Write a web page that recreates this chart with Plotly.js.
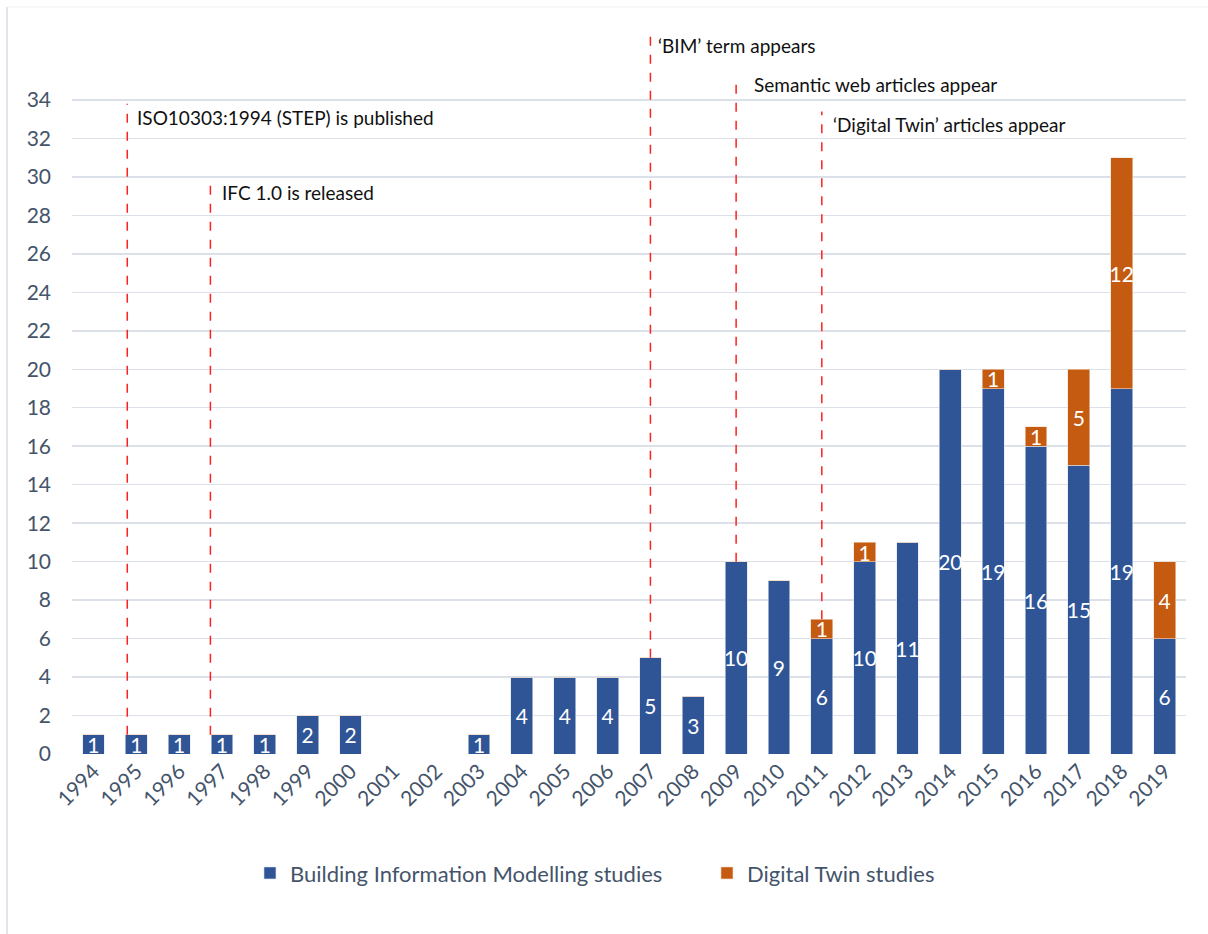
<!DOCTYPE html>
<html>
<head>
<meta charset="utf-8">
<script src="https://cdn.plot.ly/plotly-3.0.1.min.js"></script>
<style>html,body{margin:0;padding:0;background:#fff;}#chart{width:1208px;height:934px;}</style>
</head>
<body>
<div id="chart"></div>
<script>
// ---- data ----
var years = [1994,1995,1996,1997,1998,1999,2000,2001,2002,2003,2004,2005,2006,2007,2008,2009,2010,2011,2012,2013,2014,2015,2016,2017,2018,2019];
var bimStudies = [1,1,1,1,1,2,2,0,0,1,4,4,4,5,3,10,9,6,10,11,20,19,16,15,19,6];
var dtStudies  = [0,0,0,0,0,0,0,0,0,0,0,0,0,0,0,0,0,1,1,0,0,1,1,5,12,4];
var yTicks = [0,2,4,6,8,10,12,14,16,18,20,22,24,26,28,30,32,34];

// milestone events
var eventLabels = ["ISO10303:1994 (STEP) is published","IFC 1.0 is released","\u2018BIM\u2019 term appears","Semantic web articles appear","\u2018Digital Twin\u2019 articles appear"];
var eventLineX   = [1994.79, 1996.73, 2007, 2009, 2011];
var eventLineY0  = [1, 1, 5, 10, 7];
var eventLineY1  = [33.8, 30, 37.4, 35.2, 33.4];
var eventTextX   = [1994.98, 1996.96, 2007.12, 2009.38, 2011.22];
var eventTextY   = [33.1, 29.2, 36.85, 34.8, 32.7];

var BLUE = "#2F5597", ORANGE = "#C55A11";
var FONT = "Lato, 'Open Sans', sans-serif";
var TICKC = "#44546A";

function lbl(arr){ return arr.map(function(v){ return v > 0 ? String(v) : ""; }); }

var traces = [
  {type:"bar", name:"Building Information Modelling studies", x:years, y:bimStudies,
   marker:{color:BLUE, line:{color:"#DCE3EE", width:0.6}},
   text:lbl(bimStudies), textposition:"inside", insidetextanchor:"middle", constraintext:"none", textangle:0,
   textfont:{color:"#ffffff", size:21, family:FONT}, hoverinfo:"x+y"},
  {type:"bar", name:"Digital Twin studies", x:years, y:dtStudies,
   marker:{color:ORANGE, line:{color:"#F2DCCB", width:0.6}},
   text:lbl(dtStudies), textposition:"inside", insidetextanchor:"middle", constraintext:"none", textangle:0,
   textfont:{color:"#ffffff", size:21, family:FONT}, hoverinfo:"x+y"}
];

var shapes = [], annotations = [];
for (var i = 0; i < eventLabels.length; i++) {
  shapes.push({type:"line", xref:"x", yref:"y", x0:eventLineX[i], x1:eventLineX[i],
    y0:eventLineY0[i], y1:eventLineY1[i], line:{color:"#FF2020", width:1.5, dash:"dash"}});
  annotations.push({xref:"x", yref:"y", x:eventTextX[i], y:eventTextY[i], text:eventLabels[i],
    showarrow:false, xanchor:"left", yanchor:"middle", font:{family:FONT, size:19, color:"#111111"}});
}
// outer frame (faint)
shapes.push({type:"line", xref:"paper", yref:"paper", x0:-0.0583, x1:-0.0583, y0:1.022, y1:-0.25, line:{color:"#E1E4EA", width:2}});
shapes.push({type:"line", xref:"paper", yref:"paper", x0:-0.0583, x1:1.02, y0:1.022, y1:1.022, line:{color:"#F0F2F4", width:1}});

var layout = {
  width:1208, height:934,
  margin:{l:72, r:22, t:23, b:180},
  paper_bgcolor:"#ffffff", plot_bgcolor:"#ffffff",
  barmode:"stack", bargap:0.49,
  showlegend:true,
  font:{family:FONT, color:TICKC},
  xaxis:{type:"linear", range:[1993.5, 2019.5], tickmode:"array", tickvals:years, ticktext:years.map(String),
    tickangle:-45, tickfont:{size:21, color:TICKC, family:FONT}, showgrid:false, zeroline:false,
    showline:false, ticks:""},
  yaxis:{range:[0,38], tickmode:"array", tickvals:yTicks, tickfont:{size:21, color:TICKC, family:FONT},
    showgrid:true, gridcolor:"#DCE0E8", gridwidth:1.5, zeroline:false, showline:false, ticks:"",
    ticklabelstandoff:20},
  legend:{orientation:"h", x:0.57, xanchor:"center", y:-0.163, yanchor:"middle",
    font:{size:22, color:TICKC, family:FONT}, traceorder:"normal", entrywidth:412, entrywidthmode:"pixels"},
  shapes:shapes, annotations:annotations
};

Plotly.newPlot("chart", traces, layout, {displayModeBar:false, staticPlot:true});
</script>
</body>
</html>
